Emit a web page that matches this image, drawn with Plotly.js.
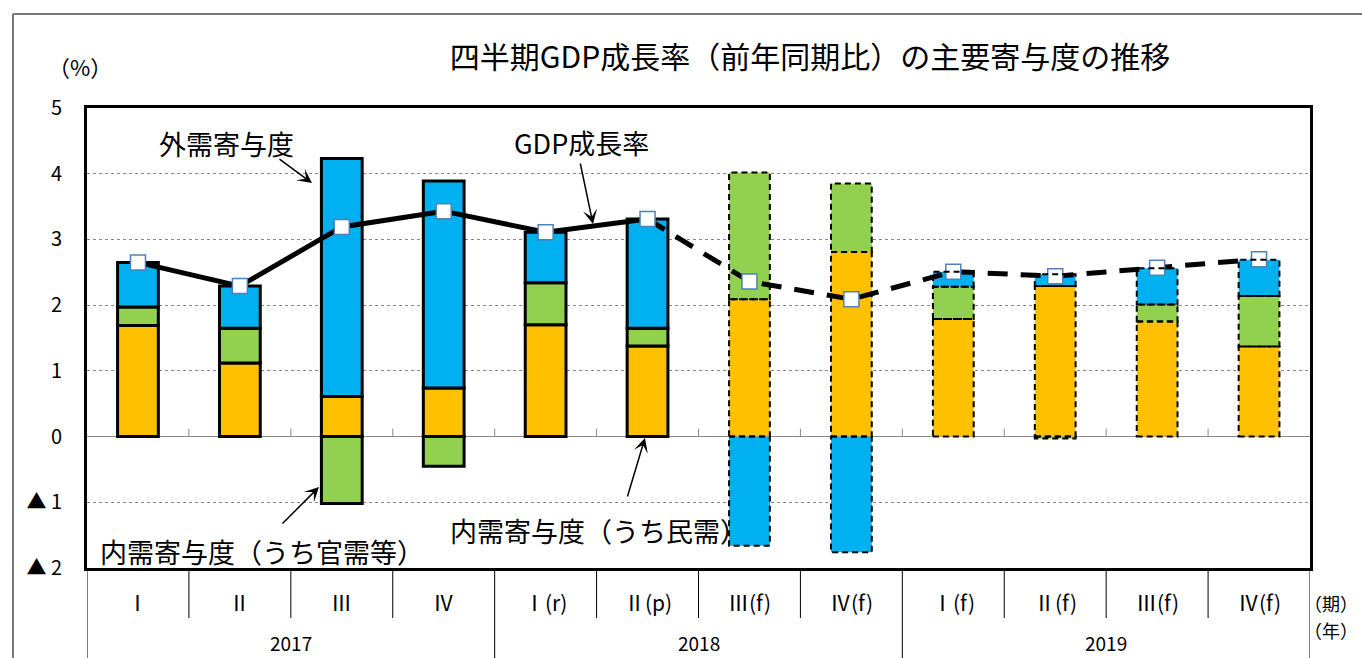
<!DOCTYPE html>
<html>
<head>
<meta charset="utf-8">
<script src="https://cdn.plot.ly/plotly-3.0.1.min.js"></script>
<style>
html,body{margin:0;padding:0;background:#fff;}
#chart{width:1362px;height:658px;}
</style>
</head>
<body>
<div id="chart"></div>
<script>
// ---- data ----
const quarters = ['Ⅰ','Ⅱ','Ⅲ','Ⅳ','Ⅰ(r)','Ⅱ(p)','Ⅲ(f)','Ⅳ(f)','Ⅰ(f)','Ⅱ(f)','Ⅲ(f)','Ⅳ(f)'];
const years = ['2017','2018','2019'];
const privateDemand = [1.69,1.12,0.61,0.74,1.70,1.38,2.09,2.81,1.79,2.29,1.75,1.37];
const publicDemand  = [0.28,0.53,-1.02,-0.45,0.64,0.27,1.93,1.04,0.49,-0.03,0.26,0.77];
const externalDemand= [0.68,0.64,3.62,3.15,0.77,1.66,-1.66,-1.76,0.23,0.18,0.55,0.55];
const gdpGrowth     = [2.65,2.29,3.19,3.43,3.11,3.31,2.36,2.09,2.51,2.44,2.57,2.70];
const yTickVals = [5,4,3,2,1,0,-1,-2];
const yTickText = ['5','4','3','2','1','0','▲ 1','▲ 2'];

// ---- layout helpers ----
const W = 1362, H = 658;
const M = {l:87, r:52, t:108, b:90};
const PW = W - M.l - M.r, PH = H - M.t - M.b;
const px = x => (x - M.l) / PW;      // pixel -> paper x
const py = y => (H - M.b - y) / PH;  // pixel -> paper y
const FONT = '"Noto Sans CJK JP", "Noto Sans", sans-serif';

const n = quarters.length;
const xs = quarters.map((_, i) => i);
const isForecast = quarters.map(q => q.indexOf('(f)') >= 0);
const barW = 0.4;

const colors = {priv:'#FFC000', pub:'#92D050', ext:'#00B0F0'};
const series = [
  {name:'民需', vals:privateDemand, color:colors.priv},
  {name:'官需等', vals:publicDemand, color:colors.pub},
  {name:'外需', vals:externalDemand, color:colors.ext}
];

const traces = series.map(s => ({
  type:'bar', x:xs, y:s.vals, width:barW, name:s.name,
  marker:{color:s.color, line:{color:'#000', width:isForecast.map(f => f ? 0 : 3)}},
  hoverinfo:'skip', showlegend:false
}));

const solidIdx = xs.filter(i => !isForecast[i] );
const lastActual = solidIdx[solidIdx.length-1];
const dashIdx = xs.filter(i => i >= lastActual);
traces.push({
  type:'scatter', mode:'lines', x:solidIdx, y:solidIdx.map(i => gdpGrowth[i]),
  line:{color:'#000', width:5}, hoverinfo:'skip', showlegend:false
});
traces.push({
  type:'scatter', mode:'lines', x:dashIdx, y:dashIdx.map(i => gdpGrowth[i]),
  line:{color:'#000', width:5, dash:'20px,13px'}, hoverinfo:'skip', showlegend:false
});
traces.push({
  type:'scatter', mode:'markers', x:xs, y:gdpGrowth,
  marker:{symbol:'square', size:15, color:'#fff', line:{color:'#4F81BD', width:1.5}},
  hoverinfo:'skip', showlegend:false
});

// ---- shapes ----
const shapes = [];
// dashed outlines for forecast bars (computed from stacked data)
xs.forEach(i => {
  if (!isForecast[i]) return;
  let pos = 0, neg = 0;
  series.forEach(s => {
    const v = s.vals[i];
    let y0, y1;
    if (v >= 0) { y0 = pos; y1 = pos + v; pos = y1; }
    else { y0 = neg; y1 = neg + v; neg = y1; }
    shapes.push({type:'rect', xref:'x', yref:'y', x0:i-barW/2, x1:i+barW/2, y0:y0, y1:y1,
      line:{color:'#000', width:2, dash:'6px,4px'}, layer:'above'});
  });
});
// small ticks on zero line at category boundaries
for (let k = 0; k < n-1; k++) {
  shapes.push({type:'line', xref:'x', yref:'y', x0:k+0.5, x1:k+0.5, y0:0, y1:0.12,
    line:{color:'#888', width:1}, layer:'below'});
}
// dividers under x-axis
for (let k = -1; k < n; k++) {
  const xb = k + 0.5;
  const yearBoundary = ((k+1) % 4 === 0);
  shapes.push({type:'line', xref:'x', yref:'paper', x0:xb, x1:xb, y0:0,
    y1: yearBoundary ? py(H+5) : py(618), line:{color:'#000', width:1}});
}
// outer chart border (left & top)
shapes.push({type:'line', xref:'paper', yref:'paper', x0:px(13), x1:px(13), y0:py(14), y1:py(H+5), line:{color:'#777', width:2}});
shapes.push({type:'line', xref:'paper', yref:'paper', x0:px(13), x1:px(W+5), y0:py(14), y1:py(14), line:{color:'#777', width:2}});

// ---- annotations ----
const annotations = [];
quarters.forEach((q, i) => annotations.push({
  text:q, xref:'x', yref:'paper', x:i, y:py(602), showarrow:false,
  font:{family:FONT, size:21, color:'#000'}, xanchor:'center', yanchor:'middle'
}));
years.forEach((yv, j) => annotations.push({
  text:yv, xref:'x', yref:'paper', x:j*4+1.5, y:py(642), showarrow:false,
  font:{family:FONT, size:19, color:'#000'}, xanchor:'center', yanchor:'middle'
}));
annotations.push({text:'（期）', xref:'paper', yref:'paper', x:px(1360), y:py(603), xanchor:'right', yanchor:'middle', showarrow:false, font:{family:FONT, size:18, color:'#000'}});
annotations.push({text:'（年）', xref:'paper', yref:'paper', x:px(1360), y:py(630), xanchor:'right', yanchor:'middle', showarrow:false, font:{family:FONT, size:18, color:'#000'}});
annotations.push({text:'（%）', xref:'paper', yref:'paper', x:px(80), y:py(66), xanchor:'center', yanchor:'middle', showarrow:false, font:{family:FONT, size:22, color:'#000'}});

const lab = (text, cx, cy) => ({text:text, xref:'paper', yref:'paper', x:px(cx), y:py(cy),
  xanchor:'center', yanchor:'middle', showarrow:false, font:{family:FONT, size:27, color:'#000'}});
annotations.push(lab('外需寄与度', 226, 143));
annotations.push(lab('GDP成長率', 581, 142));
annotations.push(lab('内需寄与度（うち官需等）', 262, 551));
annotations.push(lab('内需寄与度（うち民需）', 598, 530));

const arrow = (tx, ty, hx, hy) => ({text:'', xref:'paper', yref:'paper', x:px(hx), y:py(hy),
  axref:'pixel', ayref:'pixel', ax:tx-hx, ay:ty-hy, showarrow:true,
  arrowhead:3, arrowsize:1.6, arrowwidth:1.5, arrowcolor:'#000', standoff:0});
annotations.push(arrow(278, 158, 312, 183));
annotations.push(arrow(580, 162, 593, 224));
annotations.push(arrow(281, 525, 319, 487));
annotations.push(arrow(627, 498, 645, 438));

const layout = {
  width:W, height:H,
  margin:M,
  paper_bgcolor:'#fff', plot_bgcolor:'#fff',
  barmode:'relative',
  title:{text:'四半期GDP成長率（前年同期比）の主要寄与度の推移', font:{family:FONT, size:30, color:'#000'},
    x:px(810), xanchor:'center', xref:'paper', y:1-57/H, yanchor:'middle'},
  xaxis:{range:[-0.5, n-0.5], showticklabels:false, ticks:'', showgrid:false, zeroline:false,
    showline:true, linecolor:'#000', linewidth:3, mirror:true, fixedrange:true},
  yaxis:{range:[-2,5], tickvals:yTickVals, ticktext:yTickText, ticks:'', ticklabelstandoff:18,
    tickfont:{family:FONT, size:20, color:'#000'},
    showgrid:true, gridcolor:'#888', gridwidth:1, griddash:'dot',
    zeroline:true, zerolinecolor:'#888', zerolinewidth:1.5,
    showline:true, linecolor:'#000', linewidth:3, mirror:true, fixedrange:true},
  shapes:shapes,
  annotations:annotations,
  showlegend:false
};

Plotly.newPlot('chart', traces, layout, {staticPlot:true, displayModeBar:false});
</script>
</body>
</html>
